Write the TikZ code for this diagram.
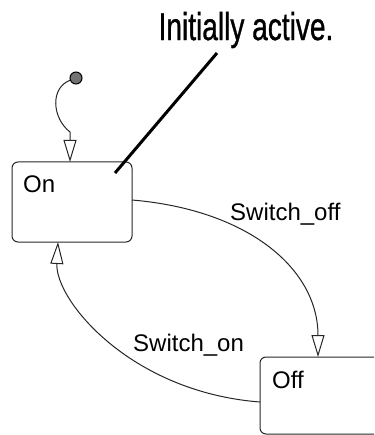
\documentclass[tikz,border=0pt]{standalone}
\usepackage{fontspec}
\setmainfont{Liberation Sans}
\newfontfamily\notefont[FakeStretch=0.72,FakeBold=0.8]{Liberation Sans}
\usetikzlibrary{arrows.meta}
\begin{document}
\begin{tikzpicture}[x=1pt, y=-1pt,
    state/.style={draw=black!85, line width=1pt, rounded corners=6pt, inner sep=0pt},
    trans/.style={draw=black!85, line width=1pt, -{Triangle[open, length=22pt, width=13pt]}},
    statename/.style={anchor=north west, font=\fontsize{24}{27}\selectfont, inner sep=0pt},
    translabel/.style={anchor=west, font=\fontsize{24}{27}\selectfont, inner sep=0pt}]
    \clip (0,0) rectangle (374,435);

    % Callout text
    \node[font=\notefont\fontsize{39}{44}\selectfont, inner sep=0pt] (note) at (246,30) {Initially active.};
    \coordinate (notefoot) at (217,53);
    \coordinate (pin) at (115,173);

    % States
    \node[state, minimum width=120pt, minimum height=80pt] (on) at (72,202) {};
    \node[statename] (onname) at (23,176) {On};
    \node[state, minimum width=130pt, minimum height=77pt] (off) at (325,395.5) {};
    \node[statename] (offname) at (272,371) {Off};

    % Default transition
    \node[circle, draw=black, line width=1pt, fill=black!55, minimum size=12pt, inner sep=0pt] (init) at (76,78) {};
    \coordinate (ontop) at (70,162);
    \draw[trans] (init) .. controls (50,88) and (52,118) .. (70,132) -- (ontop);

    % Transitions
    \coordinate (onright) at (132,200);
    \coordinate (offtop) at (318,357);
    \coordinate (offleft) at (260,402);
    \coordinate (onbottom) at (58,242);
    \draw[trans] (onright) .. controls (250,210) and (318,270) .. (offtop);
    \draw[trans] (offleft) .. controls (130,392) and (55,300) .. (onbottom);
    \node[translabel] (offlabel) at (230,214) {Switch\_off};
    \node[translabel] (onlabel) at (133,345) {Switch\_on};

    % Callout line
    \draw[black, line width=3pt] (notefoot) -- (pin);
\end{tikzpicture}
\end{document}
